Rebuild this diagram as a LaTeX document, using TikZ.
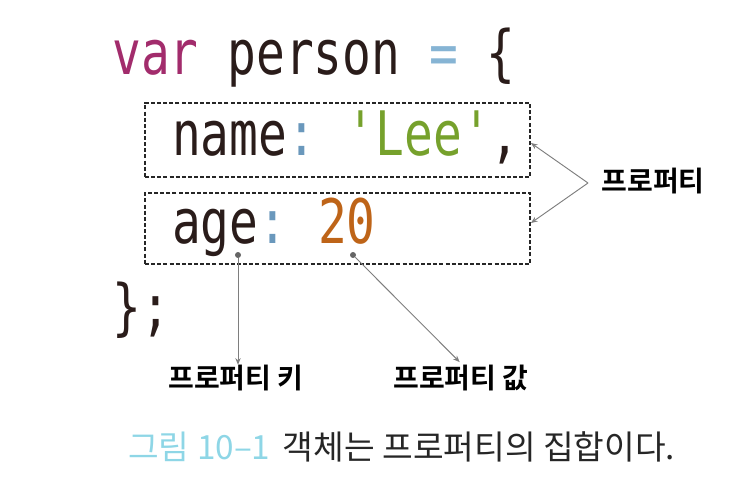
\documentclass[tikz,border=0pt]{standalone}
\usepackage{fontspec}
\setmonofont{DejaVu Sans Mono}[FakeStretch=0.78]
\newfontfamily\kofont{Noto Sans CJK KR}
\newfontfamily\kobold{Noto Sans CJK KR Bold}
\usetikzlibrary{arrows.meta,positioning}
\definecolor{kwcol}{HTML}{A22C6C}
\definecolor{idcol}{HTML}{2A1C1A}
\definecolor{opcol}{HTML}{86B4D4}
\definecolor{colcol}{HTML}{6A98BC}
\definecolor{strcol}{HTML}{76A12C}
\definecolor{numcol}{HTML}{BE6418}
\definecolor{capcol}{HTML}{8ED6E6}
\definecolor{linecol}{HTML}{7E7E7E}
\tikzset{
  code/.style = {font=\ttfamily\fontsize{46}{50}\selectfont, text=idcol, inner sep=0pt},
  codebox/.style = {draw=black!85, line width=1.4pt, dash pattern=on 3pt off 1.6pt,
    minimum width=288.75pt, text width=248pt, inner xsep=20pt, align=left,
    text height=31pt, text depth=8pt,
    font=\ttfamily\fontsize{46}{50}\selectfont, text=idcol},
  lbl/.style = {font=\kobold\fontsize{21}{24}\selectfont, text=black, inner sep=0pt},
  captext/.style = {font=\kofont\fontsize{25}{28}\selectfont, inner sep=0pt},
  dot/.style = {circle, fill=linecol!80!black, minimum size=4.5pt, inner sep=0pt},
  arrow/.style = {draw=linecol, line width=0.7pt, -{Stealth[length=5pt,width=4pt]}}
}

\begin{document}
\begin{tikzpicture}[x=0.75pt,y=-0.75pt]
  \useasboundingbox (0,0) rectangle (754,492);
  \node[code, anchor=base west] (head) at (112,75)
    {\textcolor{kwcol}{var} person \textcolor{opcol}{=} \{};
  \node[codebox, minimum height=55.5pt] (prop1) at (337.5,140)
    {\mbox{name\textcolor{colcol}{:} \textcolor{strcol}{'Lee'},}};
  \node[codebox, minimum height=53.25pt] (prop2) at (337.5,228.5)
    {\mbox{age\textcolor{colcol}{:} \textcolor{numcol}{20}}};
  \node[code, anchor=base west] (tail) at (112,328) {\};};

  \node[lbl] (proplbl) at (653,181) {프로퍼티};
  \coordinate (apex) at (588,183);
  \draw[arrow] (apex) -- (prop1.east |- 0,143);
  \draw[arrow] (apex) -- (prop2.east |- 0,223);

  \node[dot] (keydot) at (238,255) {};
  \node[dot] (valdot) at (353,255) {};
  \node[lbl] (keylbl) at (236,378) {프로퍼티 키};
  \node[lbl] (vallbl) at (461,378) {프로퍼티 값};
  \draw[arrow] (keydot) -- (keylbl.north -| keydot);
  \draw[arrow] (valdot) -- ([xshift=-1pt,yshift=2pt]vallbl.north);

  \node[captext, anchor=west, text=capcol] (capnum) at (128,447) {그림 10–1};
  \node[captext, right=9pt of capnum, text=black!85] (captxt) {객체는 프로퍼티의 집합이다.};
\end{tikzpicture}
\end{document}
